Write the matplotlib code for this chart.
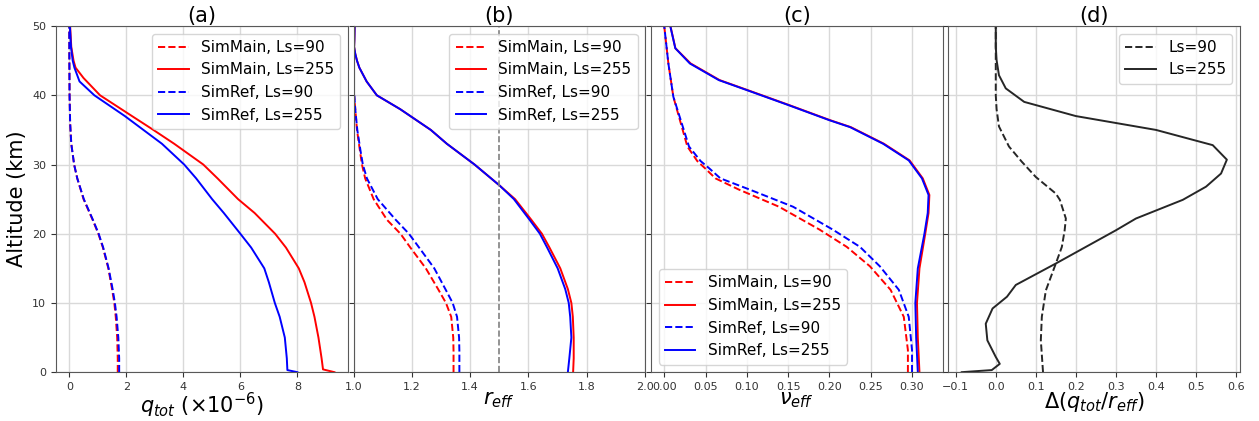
import numpy as np
import matplotlib
matplotlib.use("Agg")
import matplotlib.pyplot as plt

# ---- panel (a): total dust mass mixing ratio (x1e-6)
alt_a255 = [0, 0.4, 2, 5, 8, 10, 13, 15, 18, 20, 23, 25, 28, 30, 33, 35, 37, 40, 42.5, 44, 45, 47, 50]
qa_main255 = [9.3, 8.9, 8.85, 8.74, 8.6, 8.48, 8.25, 8.05, 7.6, 7.22, 6.5, 5.92, 5.2, 4.7, 3.68, 2.95, 2.2, 1.08, 0.5, 0.22, 0.15, 0.07, 0.03]
alt_a255r = [0, 0.3, 2, 5, 8, 10, 13, 15, 18, 20, 23, 25, 28, 30, 33, 35, 37, 40, 42, 44, 45, 47, 50]
qa_ref255 = [8.0, 7.65, 7.63, 7.56, 7.38, 7.21, 7.0, 6.84, 6.38, 6.0, 5.42, 5.01, 4.45, 4.03, 3.25, 2.6, 1.95, 0.88, 0.36, 0.18, 0.12, 0.06, 0.02]
alt_a90 = [0, 2, 5, 8, 10, 12, 15, 18, 20, 22, 25, 28, 30, 33, 36, 40, 45, 50]
qa_main90 = [1.7, 1.7, 1.68, 1.63, 1.58, 1.5, 1.37, 1.18, 1.02, 0.82, 0.5, 0.28, 0.17, 0.07, 0.03, 0.01, 0.003, 0.0]
qa_ref90 = [1.75, 1.75, 1.72, 1.66, 1.6, 1.52, 1.38, 1.19, 1.03, 0.83, 0.51, 0.28, 0.17, 0.07, 0.03, 0.01, 0.003, 0.0]

# ---- panel (b): effective radius
alt_b255 = [0, 2, 5, 8, 10, 12, 15, 18, 20, 22, 25, 27, 30, 33, 35, 38, 40, 42, 44, 45, 46, 47, 48, 50]
rb_main255 = [1.753, 1.755, 1.755, 1.752, 1.747, 1.735, 1.709, 1.672, 1.646, 1.61, 1.554, 1.50, 1.415, 1.32, 1.265, 1.16, 1.08, 1.045, 1.02, 1.012, 1.006, 1.002, 1.003, 1.004]
rb_ref255 = [1.735, 1.74, 1.747, 1.743, 1.738, 1.726, 1.70, 1.664, 1.639, 1.604, 1.55, 1.50, 1.415, 1.32, 1.265, 1.16, 1.08, 1.045, 1.02, 1.012, 1.006, 1.002, 1.003, 1.004]
alt_b90 = [0, 3, 5, 8, 10, 12, 15, 18, 20, 22, 25, 28, 30, 32, 35, 38, 40, 41]
rb_main90 = [1.343, 1.343, 1.342, 1.335, 1.317, 1.29, 1.248, 1.195, 1.161, 1.115, 1.069, 1.04, 1.029, 1.022, 1.012, 1.006, 1.002, 1.0]
rb_ref90 = [1.363, 1.363, 1.362, 1.355, 1.34, 1.315, 1.277, 1.225, 1.19, 1.145, 1.083, 1.046, 1.032, 1.024, 1.013, 1.006, 1.003, 1.0]
r_thresh = 1.5

# ---- panel (c): effective variance
alt_c255 = [0, 5, 10, 15, 20, 23, 25.6, 28, 30.6, 33, 35.4, 36.4, 38.6, 40.75, 42.2, 44.6, 46.8, 50]
vc_main255 = [0.309, 0.307, 0.306, 0.309, 0.316, 0.320, 0.321, 0.313, 0.297, 0.266, 0.226, 0.201, 0.151, 0.101, 0.067, 0.032, 0.0135, 0.0075]
vc_ref255 = [0.307, 0.305, 0.304, 0.307, 0.315, 0.319, 0.320, 0.312, 0.296, 0.265, 0.225, 0.200, 0.150, 0.100, 0.066, 0.031, 0.0134, 0.0073]
alt_c90 = [0, 3.2, 8, 11.9, 15.3, 18.1, 20.6, 23.9, 26.4, 28, 29.5, 30.5, 32.6, 36.4, 39.8, 44.6, 50]
vc_main90 = [0.295, 0.295, 0.29, 0.274, 0.249, 0.221, 0.188, 0.139, 0.09, 0.062, 0.049, 0.04, 0.028, 0.019, 0.011, 0.005, 0.0]
vc_ref90 = [0.30, 0.30, 0.296, 0.284, 0.261, 0.237, 0.204, 0.156, 0.103, 0.068, 0.054, 0.044, 0.030, 0.020, 0.011, 0.005, 0.0]

# ---- panel (d): difference of q_tot / r_eff
alt_d255 = [0.0, 0.3, 1.2, 2.2, 4.6, 7.0, 9.2, 10.9, 12.6, 15.7, 18.1, 20.5, 22.2, 24.9, 26.8, 28.7, 30.7, 32.8, 35.0, 37.0, 39.05, 41.0, 42.9, 45.1, 47, 50]
dd_255 = [-0.085, -0.01, 0.01, 0.0, -0.021, -0.025, -0.008, 0.028, 0.05, 0.15, 0.225, 0.30, 0.35, 0.467, 0.525, 0.5625, 0.577, 0.5417, 0.40, 0.20, 0.071, 0.025, 0.008, 0.002, 0.0, 0.0]
alt_d90 = [0, 4.6, 8.0, 11.8, 15.7, 18.1, 20.5, 22.2, 24.9, 25.8, 28.2, 30.4, 32.6, 35.5, 38, 40, 45, 50]
dd_90 = [0.118, 0.1125, 0.115, 0.125, 0.15, 0.165, 0.172, 0.175, 0.16, 0.15, 0.10, 0.065, 0.033, 0.008, 0.002, 0.0, 0.0, 0.0]

labels4 = ["SimMain, Ls=90", "SimMain, Ls=255", "SimRef, Ls=90", "SimRef, Ls=255"]

plt.rcParams['font.family'] = 'DejaVu Sans'
fig, axs = plt.subplots(1, 4, figsize=(12.59, 4.21), dpi=100, sharey=True)
plt.subplots_adjust(left=0.0445, right=0.985, bottom=0.116, top=0.938, wspace=0.02)

lw = 1.4

ax = axs[0]
ax.plot(qa_main90, alt_a90, 'r--', lw=lw, label=labels4[0])
ax.plot(qa_main255, alt_a255, 'r-', lw=lw, label=labels4[1])
ax.plot(qa_ref90, alt_a90, 'b--', lw=lw, label=labels4[2])
ax.plot(qa_ref255, alt_a255r, 'b-', lw=lw, label=labels4[3])
ax.set_xlabel(r'$q_{tot}$ ($\times10^{-6}$)', fontsize=15, labelpad=-1)
ax.set_ylabel('Altitude (km)', fontsize=15)
ax.set_title('(a)', fontsize=15, pad=3)
ax.legend(loc='upper right', fontsize=11)

ax = axs[1]
ax.plot(rb_main90, alt_b90, 'r--', lw=lw, label=labels4[0])
ax.plot(rb_main255, alt_b255, 'r-', lw=lw, label=labels4[1])
ax.plot(rb_ref90, alt_b90, 'b--', lw=lw, label=labels4[2])
ax.plot(rb_ref255, alt_b255, 'b-', lw=lw, label=labels4[3])
ax.axvline(r_thresh, color='gray', ls='--', lw=1.2)
ax.set_xlim(1.0, 2.0)
ax.set_xlabel(r'$r_{eff}$', fontsize=15, labelpad=-1)
ax.set_title('(b)', fontsize=15, pad=3)
ax.legend(loc='upper right', fontsize=11)

ax = axs[2]
ax.plot(vc_main90, alt_c90, 'r--', lw=lw, label=labels4[0])
ax.plot(vc_main255, alt_c255, 'r-', lw=lw, label=labels4[1])
ax.plot(vc_ref90, alt_c90, 'b--', lw=lw, label=labels4[2])
ax.plot(vc_ref255, alt_c255, 'b-', lw=lw, label=labels4[3])
ax.set_xlabel(r'$\nu_{eff}$', fontsize=15, labelpad=-1)
ax.set_title('(c)', fontsize=15, pad=3)
ax.legend(loc='lower left', fontsize=11)

ax = axs[3]
ax.plot(dd_90, alt_d90, ls='--', lw=lw, color='0.15', label='Ls=90')
ax.plot(dd_255, alt_d255, ls='-', lw=lw, color='0.15', label='Ls=255')
ax.set_xlabel(r'$\Delta(q_{tot}/r_{eff})$', fontsize=15, labelpad=-1)
ax.set_title('(d)', fontsize=15, pad=3)
ax.legend(loc='upper right', fontsize=11)

for ax in axs:
    ax.set_ylim(0, 50)
    ax.set_yticks([0, 10, 20, 30, 40, 50])
    ax.grid(True, color='0.85', lw=1)
    ax.tick_params(labelsize=8, colors='0.2')
    for s in ax.spines.values():
        s.set_color('0.35')

plt.savefig('out.png')
